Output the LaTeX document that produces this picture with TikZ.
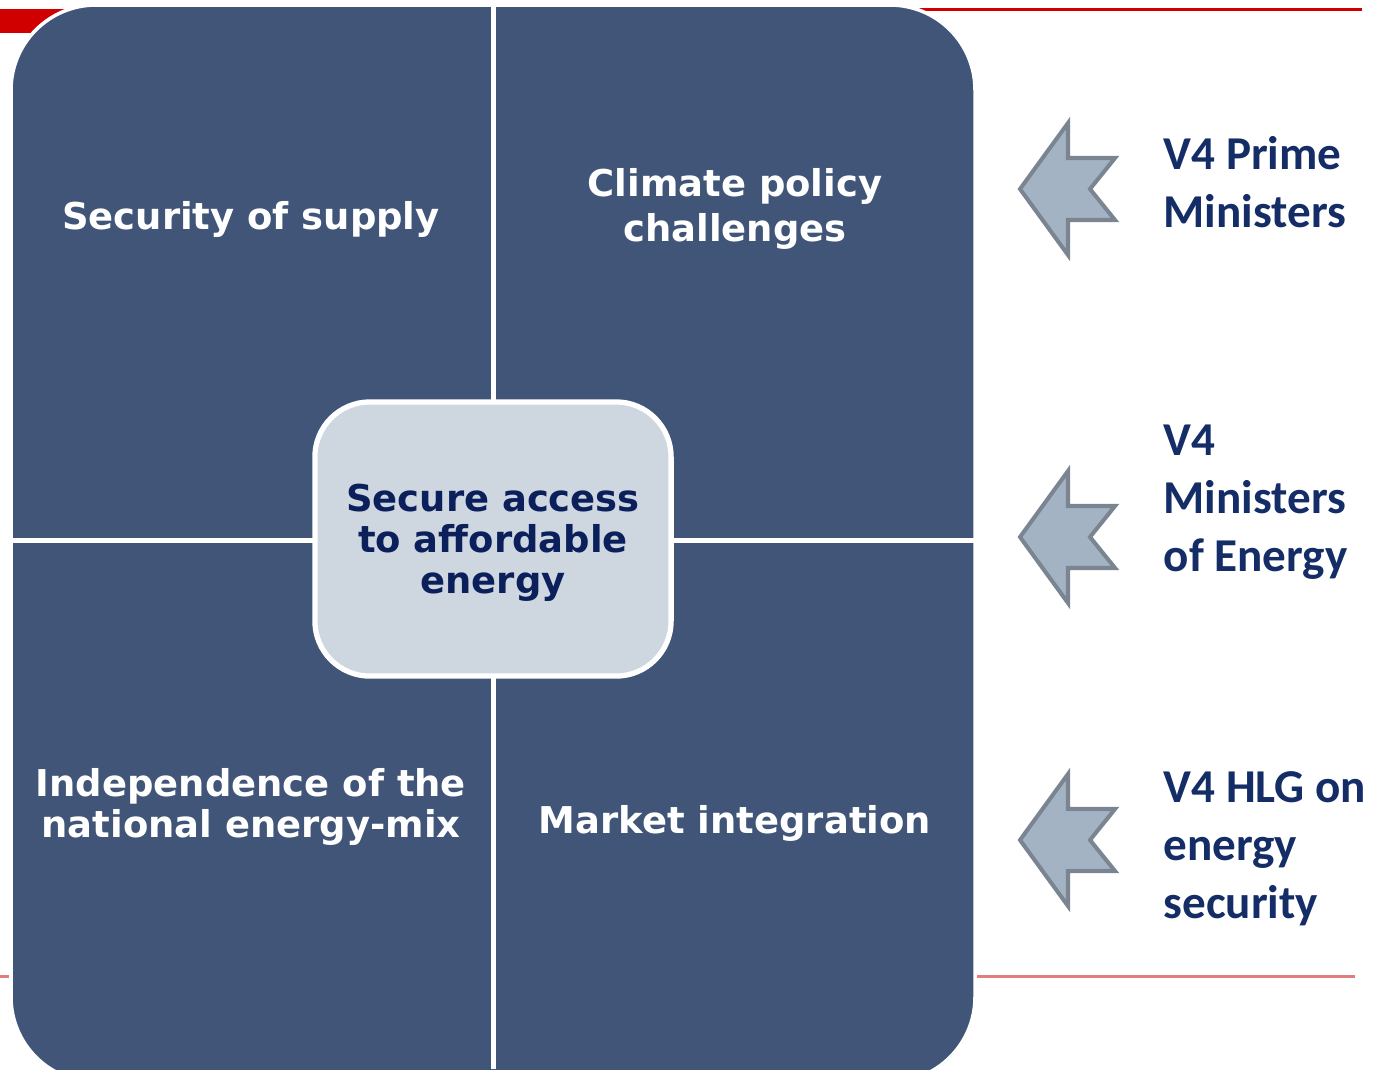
\documentclass[tikz,border=0pt]{standalone}
\usepackage{fontspec}
\setmainfont{DejaVu Sans}
\newfontfamily\sidefont{Carlito}
\definecolor{quadblue}{HTML}{405578}
\definecolor{corefill}{HTML}{CED6E0}
\definecolor{coretext}{HTML}{0B1F5B}
\definecolor{sidetext}{HTML}{142D66}
\definecolor{ruleRed}{HTML}{D00000}
\definecolor{ruleLight}{HTML}{E57C7C}
\definecolor{arrowfill}{HTML}{A4B3C4}
\definecolor{arrowedge}{HTML}{7B8591}
\tikzset{
  quadlabel/.style={text=white, font=\fontsize{10.5}{12.8}\selectfont\bfseries, align=center},
  corebox/.style={draw=white, line width=1.5pt, fill=corefill, rounded corners=0.55cm,
    minimum width=3.56cm, minimum height=2.74cm, text=coretext,
    font=\fontsize{10.5}{11.7}\selectfont\bfseries, align=center},
  sidelabel/.style={text=sidetext, font=\sidefont\fontsize{13.4}{16.5}\selectfont\bfseries,
    align=left, anchor=west, inner sep=0pt},
  leftarrow/.style={fill=arrowfill, draw=arrowedge, line width=1.15pt, line join=miter},
  divider/.style={white, line width=1.45pt}
}
\begin{document}
\begin{tikzpicture}[x=0.01cm, y=-0.01cm]
\useasboundingbox (0,0) rectangle (1385,1069);

% red rules behind the panel
\fill[ruleRed] (0,9) rectangle (72,33);
\draw[ruleRed, line width=0.75pt] (890,9.5) -- (1362,9.5);
\draw[ruleLight, line width=0.7pt] (0,976.5) -- (1355,976.5);

% the four-quadrant panel
\path[fill=quadblue, draw=white, line width=1pt, rounded corners=0.85cm]
  (11,5) rectangle (975,1082);
\coordinate (vtop) at (493.5,0);
\coordinate (vbot) at (493.5,1069);
\coordinate (hl) at (11,540.5);
\coordinate (hr) at (975,540.5);
\draw[divider] (vtop) -- (vbot);
\draw[divider] (hl) -- (hr);

% central box
\node[corebox] (core) at (493,539) {};
\node[text=coretext, font=\fontsize{10.5}{11.7}\selectfont\bfseries, align=center]
  (coretxt) at (493,543) {Secure access\\to affordable\\energy};

% quadrant labels
\node[quadlabel] (supply) at (251,219) {Security of supply};
\node[quadlabel] (climate) at (735,209) {Climate policy\\challenges};
\node[quadlabel, font=\fontsize{10.5}{11.7}\selectfont\bfseries] (mix) at (251,807)
  {Independence of the\\national energy-mix};
\node[quadlabel] (market) at (735,823) {Market integration};

% block arrows pointing at the panel
\foreach \yy in {189,537,840} {
  \begin{scope}[shift={(0,\yy)}]
    \path[leftarrow] (1020,0) -- (1068,-66) -- (1068,-31) -- (1115,-31)
      -- (1090,0) -- (1115,31) -- (1068,31) -- (1068,66) -- cycle;
  \end{scope}
}

% bodies acting on the panel
\node[sidelabel] (pm) at (1163,182) {V4 Prime\\Ministers};
\node[sidelabel] (me) at (1163,502) {V4\\Ministers\\of Energy};
\node[sidelabel] (hlg) at (1163,849) {V4 HLG on\\energy\\security};
\end{tikzpicture}
\end{document}
